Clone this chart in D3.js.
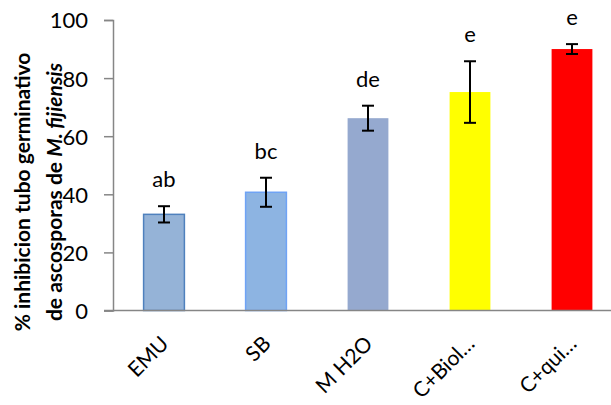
<!DOCTYPE html>
<html>
<head>
<meta charset="utf-8">
<script src="https://cdn.jsdelivr.net/npm/d3@7"></script>
<style>
  html, body { margin: 0; padding: 0; background: #fff; }
  text { font-family: Lato, "Open Sans", sans-serif; fill: #000; }
</style>
</head>
<body>
<div id="chart"></div>
<script>
// Treatments, mean % inhibition, standard deviation, significance letters
const categories = ["EMU", "SB", "M H2O", "C+Biol\u2026", "C+qui\u2026"];
const means = [33.1, 40.7, 66.2, 75.2, 90.0];
const errors = [2.8, 5.0, 4.3, 10.6, 1.7];
const letters = ["ab", "bc", "de", "e", "e"];
const fills = ["#95b3d7", "#8db4e2", "#95a9cf", "#ffff00", "#ff0000"];
const strokes = ["#4f81bd", "#6fa3f5", "none", "none", "none"];
const yTicks = [0, 20, 40, 60, 80, 100];

const W = 611, H = 405;
const svg = d3.select("#chart").append("svg")
  .attr("width", W).attr("height", H);

const x = d3.scaleBand()
  .domain(categories)
  .range([113, 623])
  .paddingInner(0.6)
  .paddingOuter(0.3);

const y = d3.scaleLinear().domain([0, 100]).range([310.5, 20]);

const axisColor = "#868686";

// y axis with ticks on the left
const yAxis = d3.axisLeft(y).tickValues(yTicks).tickSize(9).tickPadding(16);
const gy = svg.append("g").attr("transform", "translate(113,0)").call(yAxis);
gy.select(".domain").attr("stroke", axisColor).attr("stroke-width", 1.5);
gy.selectAll(".tick line").attr("stroke", axisColor).attr("stroke-width", 1.5);
gy.selectAll(".tick text")
  .attr("font-size", 22)
  .attr("font-family", "Lato, sans-serif")
  .attr("fill", "#000")
  .attr("dy", "0.36em");

// bars
svg.append("g").selectAll("rect")
  .data(categories)
  .join("rect")
  .attr("x", d => x(d))
  .attr("y", (d, i) => y(means[i]))
  .attr("width", x.bandwidth())
  .attr("height", (d, i) => y(0) - y(means[i]))
  .attr("fill", (d, i) => fills[i])
  .attr("stroke", (d, i) => strokes[i])
  .attr("stroke-width", (d, i) => strokes[i] === "none" ? 0 : 1.5);

// x axis baseline
svg.append("line")
  .attr("x1", 104).attr("x2", W)
  .attr("y1", y(0)).attr("y2", y(0))
  .attr("stroke", axisColor).attr("stroke-width", 1.5);

// error bars
const eb = svg.append("g").attr("stroke", "#000").attr("stroke-width", 2);
categories.forEach((c, i) => {
  const cx = x(c) + x.bandwidth() / 2;
  const top = y(means[i] + errors[i]);
  const bot = y(means[i] - errors[i]);
  eb.append("line").attr("x1", cx).attr("x2", cx).attr("y1", top).attr("y2", bot);
  eb.append("line").attr("x1", cx - 6).attr("x2", cx + 6).attr("y1", top).attr("y2", top);
  eb.append("line").attr("x1", cx - 6).attr("x2", cx + 6).attr("y1", bot).attr("y2", bot);
});

// significance letters above the error bars
svg.append("g").selectAll("text")
  .data(categories)
  .join("text")
  .attr("x", d => x(d) + x.bandwidth() / 2)
  .attr("y", (d, i) => y(means[i] + errors[i]) - 19)
  .attr("text-anchor", "middle")
  .attr("font-size", 22)
  .text((d, i) => letters[i]);

// rotated category labels
svg.append("g").selectAll("text")
  .data(categories)
  .join("text")
  .attr("transform", d => `translate(${x(d) + x.bandwidth() / 2 + 6},345) rotate(-45)`)
  .attr("text-anchor", "end")
  .attr("font-size", 21)
  .text(d => d);

// y axis title, two lines
const ty = svg.append("text")
  .attr("transform", "translate(0,192) rotate(-90)")
  .attr("text-anchor", "middle")
  .attr("font-size", 21)
  .attr("font-weight", "bold");
ty.append("tspan").attr("x", 0).attr("y", 30).text("% inhibicion tubo germinativo");
const l2 = ty.append("tspan").attr("x", 0).attr("y", 62);
l2.text("de ascosporas de ");
ty.append("tspan").attr("font-style", "italic").text("M. fijiensis");
</script>
</body>
</html>
